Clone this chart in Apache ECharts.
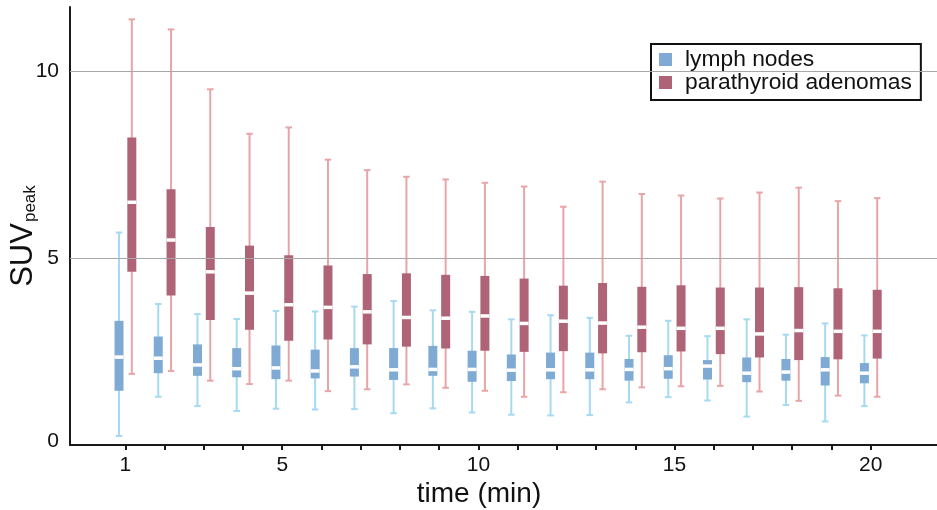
<!DOCTYPE html>
<html>
<head>
<meta charset="utf-8">
<script src="https://cdn.jsdelivr.net/npm/echarts@6/dist/echarts.min.js"></script>
<style>
html,body{margin:0;padding:0;background:#fff;}
#chart{width:937px;height:510px;}
</style>
</head>
<body>
<div id="chart"></div>
<script>
const times = [1,2,3,4,5,6,7,8,9,10,11,12,13,14,15,16,17,18,19,20];
const xTickLabels = [1,5,10,15,20];
const yTickLabels = [0,5,10];
const gridValues = [5,10];
const seriesNames = ['lymph nodes','parathyroid adenomas'];

const lymphMin = [0.24,1.29,1.04,0.91,0.97,0.95,0.96,0.85,0.98,0.87,0.81,0.79,0.80,1.14,1.28,1.19,0.76,1.07,0.63,1.04];
const lymphQ1  = [1.45,1.92,1.85,1.81,1.76,1.78,1.83,1.74,1.85,1.69,1.71,1.76,1.76,1.72,1.77,1.75,1.68,1.72,1.59,1.65];
const lymphMed = [2.35,2.32,2.14,2.04,2.06,1.98,2.09,2.01,2.02,2.02,2.00,2.01,2.01,2.02,2.04,2.11,1.92,1.95,2.01,1.92];
const lymphQ3  = [3.32,2.90,2.69,2.59,2.66,2.55,2.59,2.59,2.65,2.52,2.42,2.47,2.47,2.30,2.40,2.27,2.34,2.30,2.35,2.19];
const lymphMax = [5.68,3.77,3.50,3.37,3.58,3.57,3.70,3.85,3.60,3.56,3.36,3.47,3.40,2.92,3.32,2.91,3.36,2.95,3.25,2.93];

const paraMin = [1.90,1.98,1.72,1.63,1.72,1.44,1.49,1.62,1.53,1.45,1.29,1.41,1.49,1.54,1.57,1.58,1.43,1.18,1.32,1.29];
const paraQ1  = [4.63,4.00,3.34,3.08,2.79,2.82,2.69,2.63,2.58,2.52,2.49,2.51,2.45,2.48,2.50,2.43,2.34,2.27,2.29,2.31];
const paraMed = [6.49,5.48,4.63,4.06,3.75,3.68,3.56,3.41,3.39,3.45,3.25,3.31,3.26,3.15,3.12,3.12,2.97,3.06,3.04,3.04];
const paraQ3  = [8.22,6.84,5.83,5.33,5.07,4.80,4.57,4.59,4.55,4.52,4.45,4.26,4.33,4.23,4.27,4.21,4.21,4.22,4.19,4.15];
const paraMax = [11.38,11.11,9.51,8.32,8.49,7.63,7.35,7.17,7.10,7.01,6.91,6.37,7.04,6.71,6.67,6.59,6.75,6.88,6.52,6.60];

function buildData(mn, q1, md, q3, mx) {
  return times.map((t, i) => [t, mn[i], q1[i], md[i], q3[i], mx[i]]);
}

function makeBoxSeries(name, data, offset, boxColor, whiskerColor) {
  return {
    name: name,
    type: 'custom',
    z: 3,
    itemStyle: { color: boxColor },
    data: data,
    encode: { x: 0, y: [1, 2, 3, 4, 5] },
    renderItem: function (params, api) {
      const t = api.value(0);
      const pMin = api.coord([t, api.value(1)]);
      const pQ1 = api.coord([t, api.value(2)]);
      const pMed = api.coord([t, api.value(3)]);
      const pQ3 = api.coord([t, api.value(4)]);
      const pMax = api.coord([t, api.value(5)]);
      const cx = pMin[0] + offset;
      const bw = 9, cw = 6.5, mh = 3.5;
      const ws = { stroke: whiskerColor, lineWidth: 2 };
      return {
        type: 'group',
        children: [
          { type: 'line', shape: { x1: cx, y1: pMax[1], x2: cx, y2: pMin[1] }, style: ws },
          { type: 'line', shape: { x1: cx - cw / 2, y1: pMax[1], x2: cx + cw / 2, y2: pMax[1] }, style: ws },
          { type: 'line', shape: { x1: cx - cw / 2, y1: pMin[1], x2: cx + cw / 2, y2: pMin[1] }, style: ws },
          { type: 'rect', shape: { x: cx - bw / 2, y: pQ3[1], width: bw, height: pQ1[1] - pQ3[1] }, style: { fill: boxColor } },
          { type: 'rect', shape: { x: cx - bw / 2, y: pMed[1] - mh / 2, width: bw, height: mh }, style: { fill: '#ffffff' } }
        ]
      };
    }
  };
}

const chart = echarts.init(document.getElementById('chart'), null, { renderer: 'canvas' });
const FONT = 'Liberation Sans, Arial, sans-serif';

chart.setOption({
  animation: false,
  backgroundColor: '#ffffff',
  textStyle: { fontFamily: FONT },
  grid: { left: 70, right: 0, top: 7, bottom: 65, containLabel: false, outerBoundsMode: 'none' },
  legend: {
    data: seriesNames,
    orient: 'vertical',
    left: 651,
    top: 44,
    backgroundColor: '#ffffff',
    borderColor: '#111111',
    borderWidth: 2,
    borderRadius: 0,
    padding: [4, 9, 6, 8],
    itemGap: 0,
    itemWidth: 13,
    itemHeight: 13,
    icon: 'rect',
    textStyle: { fontSize: 22.8, lineHeight: 22, color: '#111111', fontFamily: FONT, padding: [0, 0, 0, 8] }
  },
  xAxis: {
    type: 'value',
    min: -0.41,
    max: 21.69,
    name: 'time (min)',
    nameLocation: 'middle',
    nameGap: 35,
    nameMoveOverlap: false,
    nameTextStyle: { fontSize: 28, color: '#111111', fontFamily: FONT, padding: [0, 49, 0, 0] },
    axisLine: { show: true, onZero: false, lineStyle: { color: '#1a1a1a', width: 2 } },
    axisTick: { show: true, customValues: times, length: 5, inside: false, lineStyle: { color: '#1a1a1a', width: 2 } },
    axisLabel: { customValues: xTickLabels, fontSize: 21, color: '#111111', margin: 10, fontFamily: FONT },
    splitLine: { show: false }
  },
  yAxis: {
    type: 'value',
    min: 0,
    max: 11.71,
    name: '{a|SUV}{b|peak}',
    nameLocation: 'middle',
    nameGap: 31,
    nameMoveOverlap: false,
    nameTextStyle: {
      fontFamily: FONT,
      color: '#111111',
      padding: [0, 20, 0, 0],
      rich: {
        a: { fontSize: 31, color: '#111111', fontFamily: FONT, verticalAlign: 'bottom', lineHeight: 36 },
        b: { fontSize: 17, color: '#111111', fontFamily: FONT, verticalAlign: 'bottom', lineHeight: 36, padding: [0, 0, 0, 1] }
      }
    },
    axisLine: { show: true, onZero: false, lineStyle: { color: '#1a1a1a', width: 2 } },
    axisTick: { show: false },
    axisLabel: {
      customValues: yTickLabels,
      fontSize: 21,
      color: '#111111',
      margin: 11,
      fontFamily: FONT,
      formatter: function (v) { return v === 0 ? '{z|0}' : String(v); },
      rich: { z: { fontSize: 21, color: '#111111', fontFamily: FONT, padding: [0, 0, 8, 0] } }
    },
    splitLine: { show: false }
  },
  series: [
    {
      name: 'grid',
      type: 'line',
      data: [],
      z: 1,
      silent: true,
      markLine: {
        silent: true,
        symbol: ['none', 'none'],
        label: { show: false },
        lineStyle: { color: '#a8a8a8', width: 1.2, type: 'solid' },
        data: gridValues.map(v => ({ yAxis: v }))
      }
    },
    makeBoxSeries(seriesNames[0], buildData(lymphMin, lymphQ1, lymphMed, lymphQ3, lymphMax), -6.3, '#7eaad3', '#a6d9f2'),
    makeBoxSeries(seriesNames[1], buildData(paraMin, paraQ1, paraMed, paraQ3, paraMax), 6.5, '#ae6476', '#e8a5a8')
  ]
});
</script>
</body>
</html>
